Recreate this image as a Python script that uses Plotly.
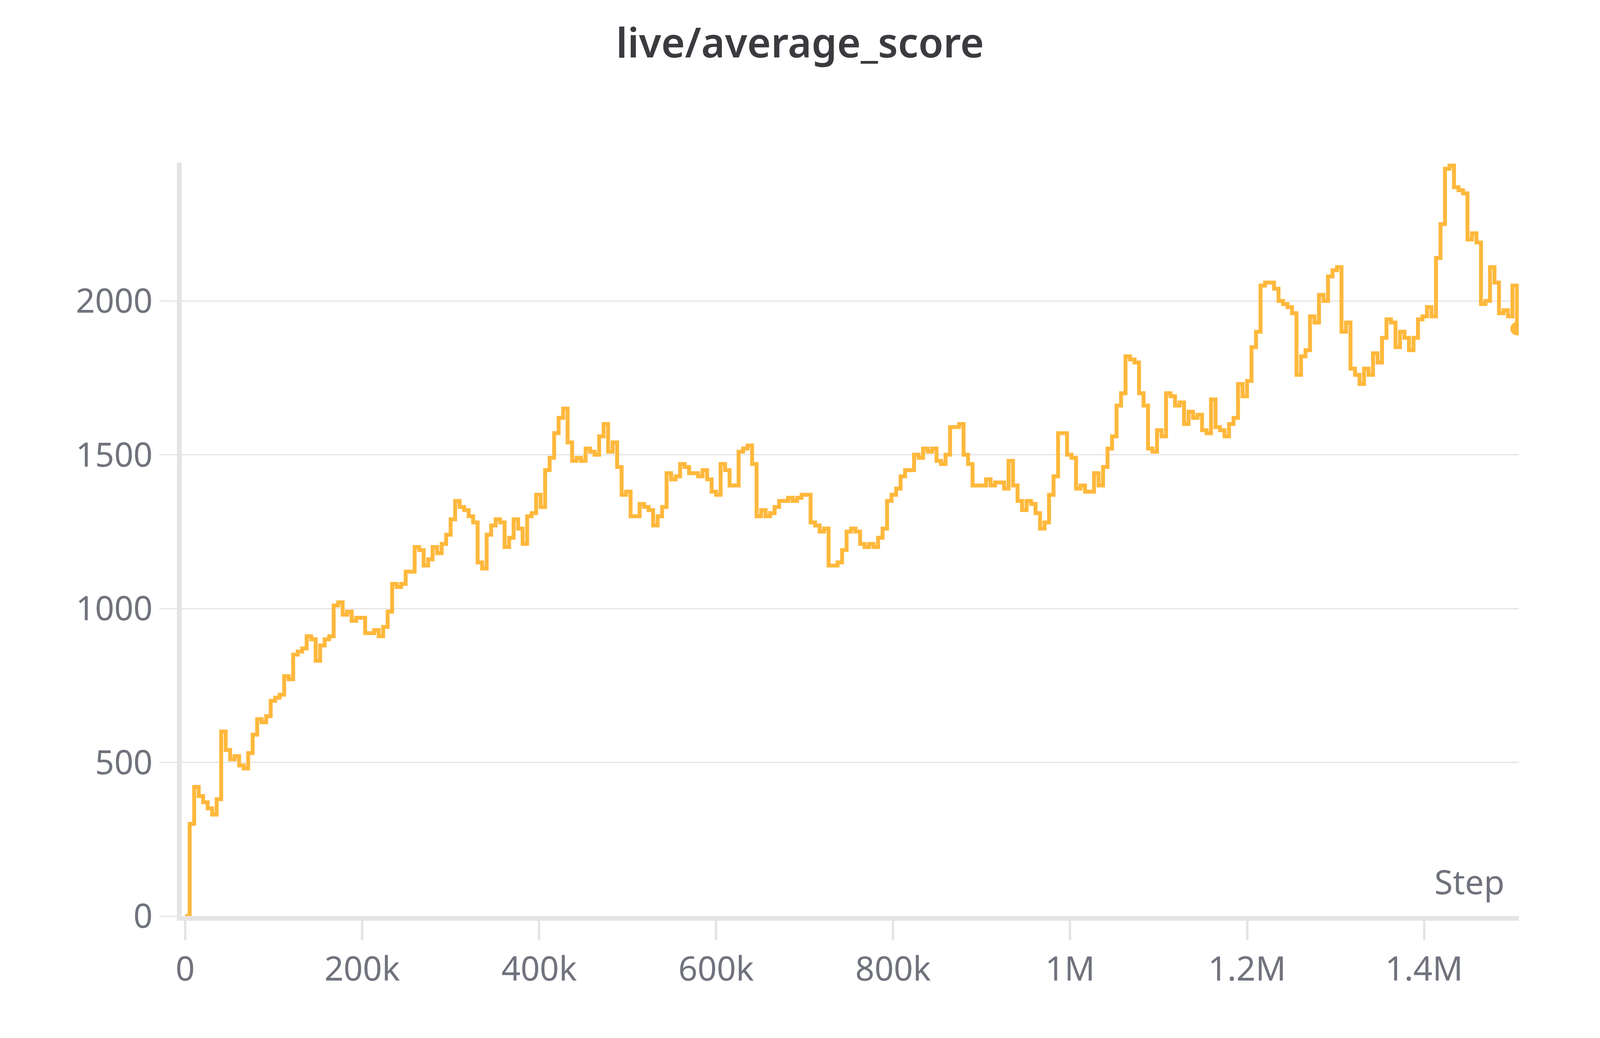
import numpy as np
import plotly.graph_objects as go

score = [0, 300, 420, 390, 370, 350, 330, 380, 600, 540, 510, 520, 490, 480, 530, 590, 640, 630, 650, 700,
         710, 720, 780, 770, 850, 860, 870, 910, 900, 830, 880, 900, 910, 1010, 1020, 980, 990, 960, 970, 970,
         920, 920, 930, 910, 940, 990, 1080, 1070, 1080, 1120, 1120, 1200, 1190, 1140, 1160, 1200, 1180, 1210, 1240, 1290,
         1350, 1330, 1320, 1300, 1280, 1150, 1130, 1240, 1270, 1290, 1280, 1200, 1230, 1290, 1260, 1210, 1300, 1310, 1370, 1330,
         1450, 1490, 1570, 1620, 1650, 1540, 1480, 1490, 1480, 1520, 1510, 1500, 1560, 1600, 1510, 1540, 1460, 1370, 1380, 1300,
         1300, 1340, 1330, 1320, 1270, 1300, 1330, 1440, 1420, 1430, 1470, 1460, 1440, 1440, 1430, 1450, 1420, 1380, 1370, 1470,
         1450, 1400, 1400, 1510, 1520, 1530, 1470, 1300, 1320, 1300, 1310, 1330, 1350, 1350, 1360, 1350, 1360, 1370, 1370, 1280,
         1270, 1250, 1260, 1140, 1140, 1150, 1190, 1250, 1260, 1250, 1210, 1200, 1210, 1200, 1230, 1260, 1350, 1370, 1390, 1430,
         1450, 1450, 1500, 1490, 1520, 1510, 1520, 1480, 1470, 1500, 1590, 1590, 1600, 1500, 1470, 1400, 1400, 1400, 1420, 1400,
         1410, 1410, 1390, 1480, 1400, 1350, 1320, 1350, 1340, 1310, 1260, 1280, 1370, 1430, 1570, 1570, 1500, 1490, 1390, 1400,
         1380, 1380, 1440, 1400, 1460, 1520, 1560, 1660, 1700, 1820, 1810, 1800, 1700, 1660, 1520, 1510, 1580, 1560, 1700, 1690,
         1660, 1670, 1600, 1640, 1620, 1630, 1580, 1570, 1680, 1590, 1580, 1560, 1600, 1620, 1730, 1690, 1740, 1850, 1900, 2050,
         2060, 2060, 2040, 2000, 1990, 1980, 1960, 1760, 1820, 1840, 1950, 1930, 2020, 2000, 2080, 2100, 2110, 1900, 1930, 1780,
         1760, 1730, 1780, 1760, 1830, 1800, 1880, 1940, 1930, 1850, 1900, 1880, 1840, 1880, 1940, 1950, 1980, 1950, 2140, 2250,
         2430, 2440, 2370, 2360, 2350, 2200, 2220, 2190, 1990, 2000, 2110, 2060, 1960, 1970, 1950, 2050, 1910]
last_step = 1505000
steps = np.linspace(0, last_step, len(score))

x_ticks = [0, 200000, 400000, 600000, 800000, 1000000, 1200000, 1400000]
x_labels = ['0', '200k', '400k', '600k', '800k', '1M', '1.2M', '1.4M']
y_ticks = [0, 500, 1000, 1500, 2000]

line_color = '#ffb83c'
grey = '#e4e4e6'
font = 'Noto Sans'

fig = go.Figure()
fig.add_trace(go.Scatter(x=steps, y=score, mode='lines', line=dict(color=line_color, width=10, shape='hv'),
                         showlegend=False))
fig.add_trace(go.Scatter(x=[steps[-1]], y=[score[-1]], mode='markers',
                         marker=dict(color=line_color, size=34), showlegend=False))

fig.update_layout(
    autosize=True,
    paper_bgcolor='white', plot_bgcolor='white',
    margin=dict(l=457, r=200, t=408, b=320),
    title=dict(text='live/average_score', x=0.5, y=0.975, yanchor='top',
               font=dict(family=font, size=104, color='#3a3b3f', weight=600)),
    font=dict(family=font, color='#70737d', size=86),
    annotations=[dict(text='Step', xref='paper', yref='paper', x=0.99, y=0.015,
                      xanchor='right', yanchor='bottom', showarrow=False,
                      font=dict(family=font, size=86, color='#70737d'))],
)
fig.update_xaxes(range=[-4000, last_step + 2000], tickvals=x_ticks, ticktext=x_labels,
                 showgrid=False, zeroline=False, showline=True, linecolor=grey, linewidth=12,
                 ticks='outside', tickcolor=grey, tickwidth=6, ticklen=50)
fig.update_yaxes(range=[0, 2450], tickvals=y_ticks, showgrid=True, gridcolor=grey, gridwidth=3,
                 zeroline=False, showline=True, linecolor=grey, linewidth=12,
                 ticks='outside', tickcolor=grey, tickwidth=3, ticklen=45)

fig.write_html('out.html', default_width='100%', default_height='100vh',
               config={'responsive': True})
